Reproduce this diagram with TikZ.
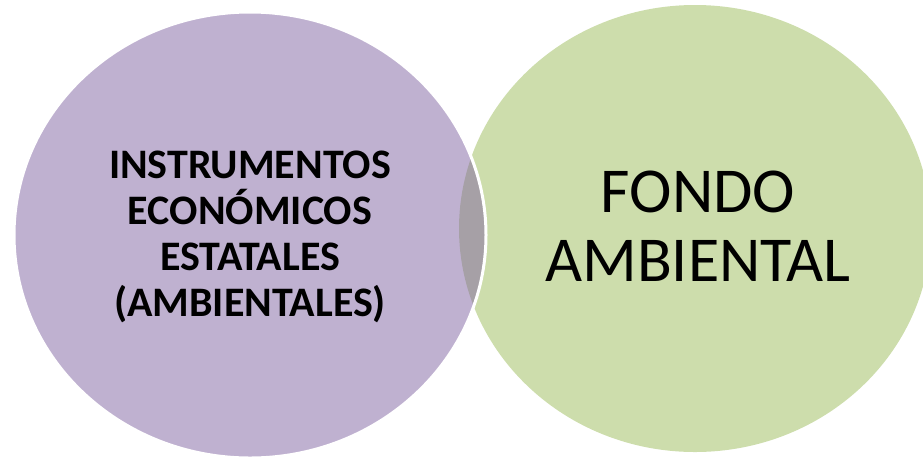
\documentclass[tikz,border=0pt]{standalone}
\usepackage{fontspec}
\setmainfont{Carlito}
\usepackage{tikz}
\usetikzlibrary{calc}

\definecolor{lila}{RGB}{128,100,162}
\definecolor{verde}{RGB}{155,187,89}

\begin{document}
\begin{tikzpicture}[x=1pt,y=-1pt]
\useasboundingbox (0,0) rectangle (923,459);

\fill[verde, fill opacity=0.5] (695,228.5) ellipse [x radius=236, y radius=223.5];
\filldraw[fill=lila, fill opacity=0.5, draw=white, line width=3pt] (250,235) ellipse [x radius=236, y radius=223];

\node[align=center, font=\fontsize{42}{46}\selectfont\bfseries] (instr) at (250,237) {INSTRUMENTOS\\ECONÓMICOS\\ESTATALES\\(AMBIENTALES)};
\node[align=center, font=\fontsize{64}{69}\selectfont] (fondo) at (698,226) {FONDO\\AMBIENTAL};
\end{tikzpicture}
\end{document}
